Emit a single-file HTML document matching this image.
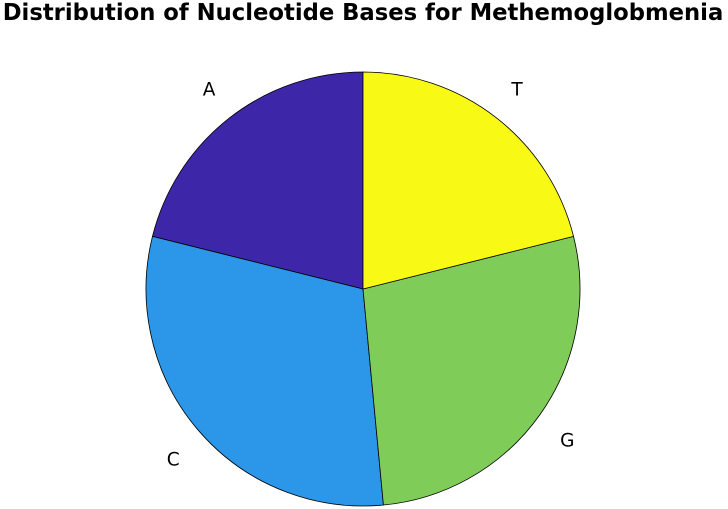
<!DOCTYPE html>
<html><head><meta charset="utf-8"><style>
html,body{margin:0;padding:0;background:#fff;}
svg{display:block;font-family:"DejaVu Sans","Liberation Sans",sans-serif;}
</style></head><body>
<svg id="chart" width="728" height="509" viewBox="0 0 728 509">
<text x="363" y="20" text-anchor="middle" font-size="22.7" font-weight="bold" fill="#000">Distribution of Nucleotide Bases for Methemoglobmenia</text>
<g id="slices"></g>
<g id="labels"></g>
</svg>
<script>
const categories = ["A", "C", "G", "T"];
const values = [21.1, 30.4, 27.4, 21.1];
const colors = ["#3e26a8", "#2c96e8", "#80cc58", "#f8f914"];
const cx = 363, cy = 289, r = 217, labelRx = 1.153, labelRy = 1.185;
const NS = "http://www.w3.org/2000/svg";
const total = values.reduce((a, b) => a + b, 0);
const sg = document.getElementById("slices");
const lg = document.getElementById("labels");
function pt(angDeg, rx, ry) {
  const a = angDeg * Math.PI / 180;
  return [cx + rx * Math.cos(a), cy - ry * Math.sin(a)];
}
let start = 90;
values.forEach((v, i) => {
  const sweep = v / total * 360;
  const end = start + sweep;
  const p1 = pt(start, r, r), p2 = pt(end, r, r);
  const large = sweep > 180 ? 1 : 0;
  const path = document.createElementNS(NS, "path");
  path.setAttribute("d", `M${cx},${cy} L${p1[0]},${p1[1]} A${r},${r} 0 ${large} 0 ${p2[0]},${p2[1]} Z`);
  path.setAttribute("fill", colors[i]);
  path.setAttribute("stroke", "#000");
  path.setAttribute("stroke-width", "0.8");
  
  
  sg.appendChild(path);
  const mid = start + sweep / 2;
  const lp = pt(mid, r * labelRx, r * labelRy);
  const t = document.createElementNS(NS, "text");
  t.setAttribute("x", lp[0]);
  t.setAttribute("y", lp[1] + 9);
  t.setAttribute("text-anchor", "middle");
  t.setAttribute("font-size", "18.5");
  t.textContent = categories[i];
  
  
  lg.appendChild(t);
  start = end;
});
</script>
</body></html>
